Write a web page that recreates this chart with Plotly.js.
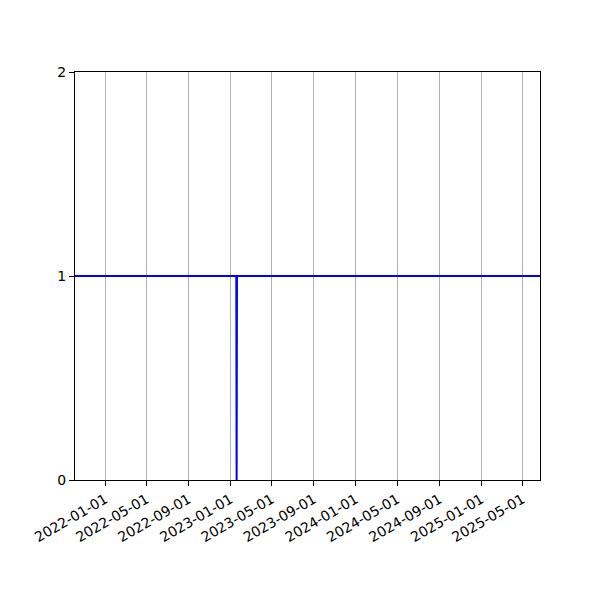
<!DOCTYPE html>
<html>
<head>
<meta charset="utf-8">
<script src="https://cdn.plot.ly/plotly-3.0.1.min.js"></script>
<style>
  html, body { margin: 0; padding: 0; background: #ffffff; }
  #chart { width: 600px; height: 600px; }
</style>
</head>
<body>
<div id="chart"></div>
<script>
// series: flat at 1 with a one-day dip to 0 in January 2023
const dates = ["2021-10-05", "2023-01-18", "2023-01-19", "2023-01-20", "2025-06-21"];
const values = [1, 1, 0, 1, 1];

const xRange = ["2021-10-05", "2025-06-21"];
const xTicks = [
  "2022-01-01", "2022-05-01", "2022-09-01",
  "2023-01-01", "2023-05-01", "2023-09-01",
  "2024-01-01", "2024-05-01", "2024-09-01",
  "2025-01-01", "2025-05-01",
];
const yTicks = [0, 1, 2];

const trace = {
  type: "scatter",
  mode: "lines",
  x: dates,
  y: values,
  line: { color: "#0000ff", width: 2 },
  hoverinfo: "x+y",
  showlegend: false,
};

const layout = {
  width: 600,
  height: 600,
  paper_bgcolor: "#ffffff",
  plot_bgcolor: "#ffffff",
  font: { family: "DejaVu Sans, sans-serif", size: 14, color: "#000000" },
  margin: { l: 75, r: 60, t: 72, b: 120 },
  xaxis: {
    type: "date",
    range: xRange,
    tickvals: xTicks,
    ticktext: xTicks,
    tickangle: -30,
    ticks: "outside",
    ticklen: 5,
    tickwidth: 1,
    tickcolor: "#000000",
    showgrid: true,
    gridcolor: "#b0b0b0",
    gridwidth: 1,
    showline: true,
    linecolor: "#000000",
    linewidth: 1,
    mirror: true,
    zeroline: false,
  },
  yaxis: {
    range: [0, 2],
    tickvals: yTicks,
    ticktext: yTicks.map(String),
    ticks: "outside",
    ticklen: 5,
    tickwidth: 1,
    tickcolor: "#000000",
    showgrid: false,
    showline: true,
    linecolor: "#000000",
    linewidth: 1,
    mirror: true,
    zeroline: false,
  },
};

Plotly.newPlot("chart", [trace], layout, { displayModeBar: false, responsive: false });
</script>
</body>
</html>
